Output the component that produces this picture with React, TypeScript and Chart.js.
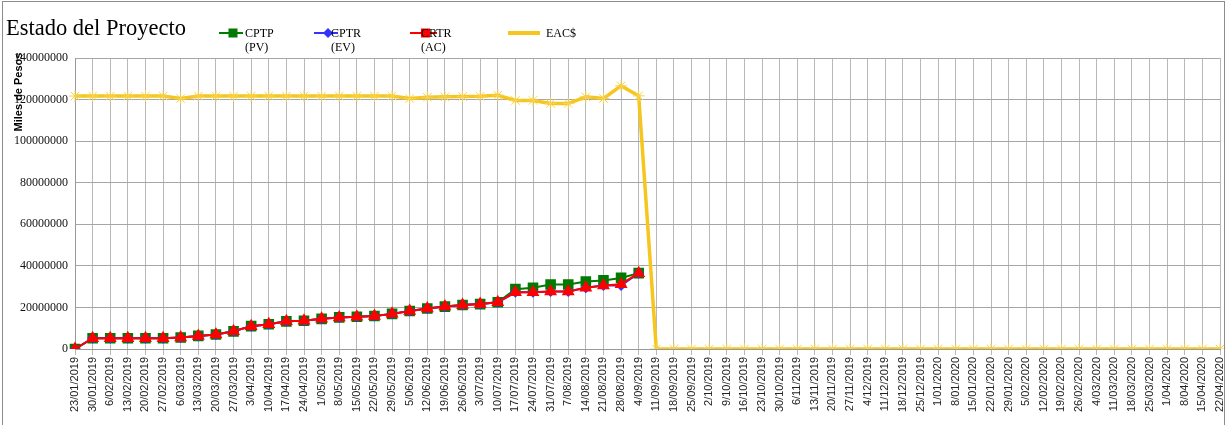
import React, { useEffect, useRef } from "react";
import { Chart, registerables } from "chart.js";

Chart.register(...registerables);

const categories: string[] = [
  "23/01/2019", "30/01/2019", "6/02/2019", "13/02/2019", "20/02/2019", "27/02/2019",
  "6/03/2019", "13/03/2019", "20/03/2019", "27/03/2019", "3/04/2019", "10/04/2019",
  "17/04/2019", "24/04/2019", "1/05/2019", "8/05/2019", "15/05/2019", "22/05/2019",
  "29/05/2019", "5/06/2019", "12/06/2019", "19/06/2019", "26/06/2019", "3/07/2019",
  "10/07/2019", "17/07/2019", "24/07/2019", "31/07/2019", "7/08/2019", "14/08/2019",
  "21/08/2019", "28/08/2019", "4/09/2019", "11/09/2019", "18/09/2019", "25/09/2019",
  "2/10/2019", "9/10/2019", "16/10/2019", "23/10/2019", "30/10/2019", "6/11/2019",
  "13/11/2019", "20/11/2019", "27/11/2019", "4/12/2019", "11/12/2019", "18/12/2019",
  "25/12/2019", "1/01/2020", "8/01/2020", "15/01/2020", "22/01/2020", "29/01/2020",
  "5/02/2020", "12/02/2020", "19/02/2020", "26/02/2020", "4/03/2020", "11/03/2020",
  "18/03/2020", "25/03/2020", "1/04/2020", "8/04/2020", "15/04/2020", "22/04/2020",
];

const cptpPV: number[] = [
  0, 5200000, 5200000, 5200000, 5200000, 5200000, 5500000, 6300000, 7000000, 8500000,
  11000000, 11900000, 13300000, 13600000, 14500000, 15200000, 15500000, 15900000, 16900000, 18300000,
  19500000, 20400000, 21200000, 21600000, 22500000, 28800000, 29500000, 31000000, 31000000, 32500000,
  33000000, 34200000, 36500000,
];

const cptrEV: number[] = [
  0, 5200000, 5200000, 5200000, 5200000, 5200000, 5500000, 6300000, 7000000, 8500000,
  11000000, 11900000, 13300000, 13600000, 14500000, 15200000, 15500000, 15900000, 16900000, 18300000,
  19500000, 20400000, 21200000, 21600000, 22500000, 27300000, 27300000, 27700000, 27700000, 29500000,
  30500000, 30500000, 36500000,
];

const crtrAC: number[] = [
  0, 5200000, 5200000, 5200000, 5200000, 5200000, 5500000, 6300000, 7000000, 8500000,
  11000000, 11900000, 13300000, 13600000, 14500000, 15200000, 15500000, 15900000, 16900000, 18300000,
  19500000, 20400000, 21200000, 21600000, 22500000, 27300000, 27300000, 27700000, 27700000, 29500000,
  30500000, 31200000, 36500000,
];

const eacValues: number[] = [
  121700000, 121700000, 121700000, 121700000, 121700000, 121700000, 120500000, 121700000, 121700000, 121700000,
  121700000, 121700000, 121700000, 121700000, 121700000, 121700000, 121700000, 121700000, 121700000, 120500000,
  121100000, 121300000, 121500000, 121600000, 122100000, 119600000, 119600000, 118100000, 118100000, 121300000,
  120500000, 126600000, 121800000, 0, 0, 0, 0, 0, 0, 0,
  0, 0, 0, 0, 0, 0, 0, 0, 0, 0,
  0, 0, 0, 0, 0, 0, 0, 0, 0, 0,
  0, 0, 0, 0, 0, 0,
];

const yTicks: number[] = [0, 20000000, 40000000, 60000000, 80000000, 100000000, 120000000, 140000000];

const titleText = "Estado del Proyecto";
const yTitleText = "Miles de Pesos";
const legendItems = [
  { l1: "CPTP", l2: "(PV)", color: "#007a00", style: "rect", x1: 219, x2: 243, tx: 245, lw: 2 },
  { l1: "CPTR", l2: "(EV)", color: "#3333ff", style: "rectRot", x1: 314, x2: 338, tx: 331, lw: 2 },
  { l1: "CRTR", l2: "(AC)", color: "#ff0000", style: "rect", x1: 410, x2: 437, tx: 421, lw: 2 },
  { l1: "EAC$", l2: "", color: "#f6c61e", style: "none", x1: 508, x2: 540, tx: 546, lw: 4 },
];

const overlayPlugin = {
  id: "overlay",
  afterDraw(chart: any) {
    const ctx = chart.ctx as CanvasRenderingContext2D;
    ctx.save();
    ctx.strokeStyle = "#8c8c8c";
    ctx.lineWidth = 1;
    ctx.strokeRect(2.5, 1.5, 1222, 430);
    ctx.fillStyle = "#000";
    ctx.font = "22.5px 'Liberation Serif'";
    ctx.textBaseline = "alphabetic";
    ctx.textAlign = "left";
    ctx.fillText(titleText, 6, 35);
    for (const it of legendItems) {
      const y = 33;
      ctx.strokeStyle = it.color;
      ctx.lineWidth = it.lw;
      ctx.beginPath();
      ctx.moveTo(it.x1, y);
      ctx.lineTo(it.x2, y);
      ctx.stroke();
      const mx = (it.x1 + it.x2) / 2 + 2;
      ctx.fillStyle = it.color;
      if (it.style === "rect") {
        ctx.fillRect(mx - 4.5, y - 4.5, 9, 9);
      } else if (it.style === "rectRot") {
        ctx.beginPath();
        ctx.moveTo(mx, y - 5);
        ctx.lineTo(mx + 5, y);
        ctx.lineTo(mx, y + 5);
        ctx.lineTo(mx - 5, y);
        ctx.closePath();
        ctx.fill();
      }
      ctx.fillStyle = "#000";
      ctx.font = "12px 'Liberation Serif'";
      ctx.fillText(it.l1, it.tx, y + 4);
      if (it.l2) ctx.fillText(it.l2, it.tx, y + 18);
    }
    ctx.translate(22, 92);
    ctx.rotate(-Math.PI / 2);
    ctx.font = "bold 11px 'Liberation Sans'";
    ctx.textAlign = "center";
    ctx.textBaseline = "alphabetic";
    ctx.fillStyle = "#000";
    ctx.fillText(yTitleText, 0, 0);
    ctx.restore();
  },
};

export default function App() {
  const ref = useRef<HTMLCanvasElement | null>(null);
  useEffect(() => {
    if (!ref.current) return;
    const chart = new Chart(ref.current, {
      type: "line",
      data: {
        labels: categories,
        datasets: [
          {
            label: "CPTP (PV)",
            data: cptpPV,
            borderColor: "#007a00",
            backgroundColor: "#007a00",
            borderWidth: 2,
            pointStyle: "rect",
            pointRadius: 7.5,
            pointBorderWidth: 0,
            order: 3,
          },
          {
            label: "CPTR (EV)",
            data: cptrEV,
            borderColor: "#3333ff",
            backgroundColor: "#3333ff",
            borderWidth: 2,
            pointStyle: "rectRot",
            pointRadius: 5.5,
            pointBorderWidth: 0,
            order: 2,
          },
          {
            label: "CRTR (AC)",
            data: crtrAC,
            borderColor: "#ff0000",
            backgroundColor: "#ff0000",
            borderWidth: 2,
            pointStyle: "triangle",
            pointRadius: 7.5,
            pointBorderWidth: 0,
            order: 1,
          },
          {
            label: "EAC$",
            data: eacValues,
            borderColor: "#f6c61e",
            backgroundColor: "#f6c61e",
            borderWidth: 3.5,
            pointStyle: "star",
            pointRadius: 6,
            pointBorderWidth: 1,
            pointBorderColor: "#f5d352",
            order: 0,
          },
        ],
      },
      options: {
        responsive: false,
        animation: false,
        layout: { padding: { left: 8, right: 0, top: 58, bottom: 0 } },
        plugins: {
          legend: { display: false },
          title: { display: false },
          tooltip: { enabled: false },
        },
        elements: { line: { tension: 0 } },
        scales: {
          x: {
            offset: false,
            grid: { color: "#b8b8b8", lineWidth: 1, tickLength: 6, drawTicks: true },
            border: { color: "#999999" },
            ticks: {
              autoSkip: false,
              minRotation: 90,
              maxRotation: 90,
              padding: 2,
              color: "#222",
              font: { family: "'Liberation Sans'", size: 11 },
            },
            afterFit(scale: any) {
              scale.height = 76;
              scale.paddingRight = 8;
              scale.paddingLeft = 0;
            },
          },
          y: {
            min: 0,
            max: 140000000,
            afterBuildTicks(scale: any) {
              scale.ticks = yTicks.map((v) => ({ value: v }));
            },
            grid: { color: "#a6a6a6", lineWidth: 1, drawTicks: false },
            border: { color: "#999999" },
            ticks: {
              padding: 7,
              color: "#111",
              font: { family: "'Liberation Serif'", size: 12 },
              callback: (v: any) => String(v),
            },
            afterFit(scale: any) {
              scale.width = 67;
            },
          },
        },
      },
      plugins: [overlayPlugin],
    });
    return () => chart.destroy();
  }, []);
  return (
    <div style={{ position: "fixed", left: 0, top: 0, width: 1228, height: 425, background: "#fff" }}>
      <canvas ref={ref} width={1228} height={425} />
    </div>
  );
}
